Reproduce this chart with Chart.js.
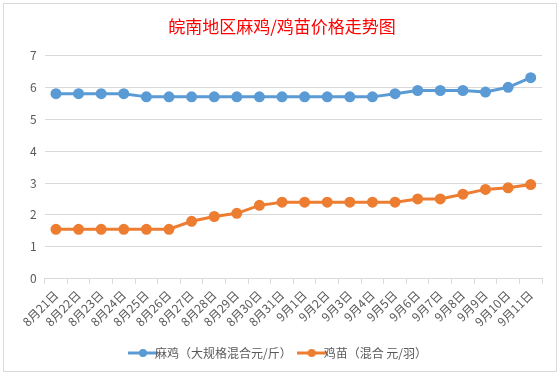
<!DOCTYPE html>
<html lang="zh">
<head>
<meta charset="UTF-8">
<title>皖南地区麻鸡/鸡苗价格走势图</title>
<script src="https://cdn.jsdelivr.net/npm/chart.js"></script>
<style>
    html, body { margin: 0; padding: 0; background: #fff; }
    #frame {
        position: absolute; left: 3px; top: 3px; width: 552px; height: 367px;
        border: 1px solid #d9d9d9;
    }
    #wrap { position: absolute; left: 0; top: 0; width: 560px; height: 375px; }
</style>
</head>
<body>
<div id="frame"></div>
<div id="wrap"><canvas id="priceChart"></canvas></div>

<script>
// ======= Datos =======
const fechas = [
    '8月21日', '8月22日', '8月23日', '8月24日', '8月25日', '8月26日', '8月27日', '8月28日',
    '8月29日', '8月30日', '8月31日', '9月1日', '9月2日', '9月3日', '9月4日', '9月5日',
    '9月6日', '9月7日', '9月8日', '9月9日', '9月10日', '9月11日'
];
const maji = [5.8, 5.8, 5.8, 5.8, 5.7, 5.7, 5.7, 5.7, 5.7, 5.7, 5.7,
              5.7, 5.7, 5.7, 5.7, 5.8, 5.9, 5.9, 5.9, 5.85, 6.0, 6.3];
const jimiao = [1.55, 1.55, 1.55, 1.55, 1.55, 1.55, 1.8, 1.95, 2.05, 2.3, 2.4,
                2.4, 2.4, 2.4, 2.4, 2.4, 2.5, 2.5, 2.65, 2.8, 2.85, 2.95];
const yTicks = [0, 1, 2, 3, 4, 5, 6, 7];

const FONT = "'Noto Sans CJK SC', 'Noto Sans', sans-serif";
const AZUL = '#5B9BD5';
const NARANJA = '#ED7D31';

// marcador de leyenda: línea con punto
function marcador(color) {
    const c = document.createElement('canvas');
    c.width = 30; c.height = 10;
    const ctx = c.getContext('2d');
    ctx.strokeStyle = color;
    ctx.lineWidth = 3;
    ctx.beginPath(); ctx.moveTo(0, 5); ctx.lineTo(30, 5); ctx.stroke();
    ctx.fillStyle = color;
    ctx.beginPath(); ctx.arc(15, 5, 4, 0, Math.PI * 2); ctx.fill();
    return c;
}

function crearDataset(label, data, color) {
    return {
        label: label,
        data: data,
        borderColor: color,
        backgroundColor: color,
        borderWidth: 3,
        pointRadius: 4,
        pointHoverRadius: 4,
        tension: 0,
        fill: false
    };
}

new Chart(document.getElementById('priceChart'), {
    type: 'line',
    data: {
        labels: fechas,
        datasets: [
            crearDataset('麻鸡（大规格混合元/斤）', maji, AZUL),
            crearDataset('鸡苗（混合 元/羽）', jimiao, NARANJA)
        ]
    },
    options: {
        responsive: true,
        maintainAspectRatio: false,
        animation: false,
        layout: { padding: { left: 22, right: 18, top: 4, bottom: 6 } },
        plugins: {
            title: {
                display: true,
                text: '皖南地区麻鸡/鸡苗价格走势图',
                color: '#FF0000',
                font: { family: FONT, size: 17, weight: 'normal' },
                padding: { top: 12, bottom: 19 }
            },
            legend: {
                position: 'bottom',
                labels: {
                    color: '#595959',
                    font: { family: FONT, size: 12 },
                    usePointStyle: true,
                    padding: 14,
                    generateLabels: chart => chart.data.datasets.map((ds, i) => ({
                        text: ds.label,
                        pointStyle: marcador(ds.borderColor),
                        fontColor: '#595959',
                        strokeStyle: ds.borderColor,
                        fillStyle: ds.borderColor,
                        lineWidth: 0,
                        datasetIndex: i
                    }))
                }
            },
            tooltip: { enabled: false }
        },
        scales: {
            x: {
                offset: true,
                grid: {
                    drawOnChartArea: false,
                    drawTicks: true,
                    tickLength: 5,
                    color: '#d9d9d9',
                    offset: true
                },
                border: { color: '#d9d9d9' },
                ticks: {
                    color: '#595959',
                    font: { family: FONT, size: 12 },
                    minRotation: 45,
                    maxRotation: 45,
                    autoSkip: false,
                    padding: 4
                }
            },
            y: {
                min: 0,
                max: 7,
                afterBuildTicks: s => { s.ticks = yTicks.map(v => ({ value: v })); },
                grid: { color: '#d9d9d9', drawTicks: false },
                border: { display: false },
                ticks: {
                    color: '#595959',
                    font: { family: FONT, size: 12 },
                    padding: 8
                }
            }
        }
    }
});
</script>
</body>
</html>
